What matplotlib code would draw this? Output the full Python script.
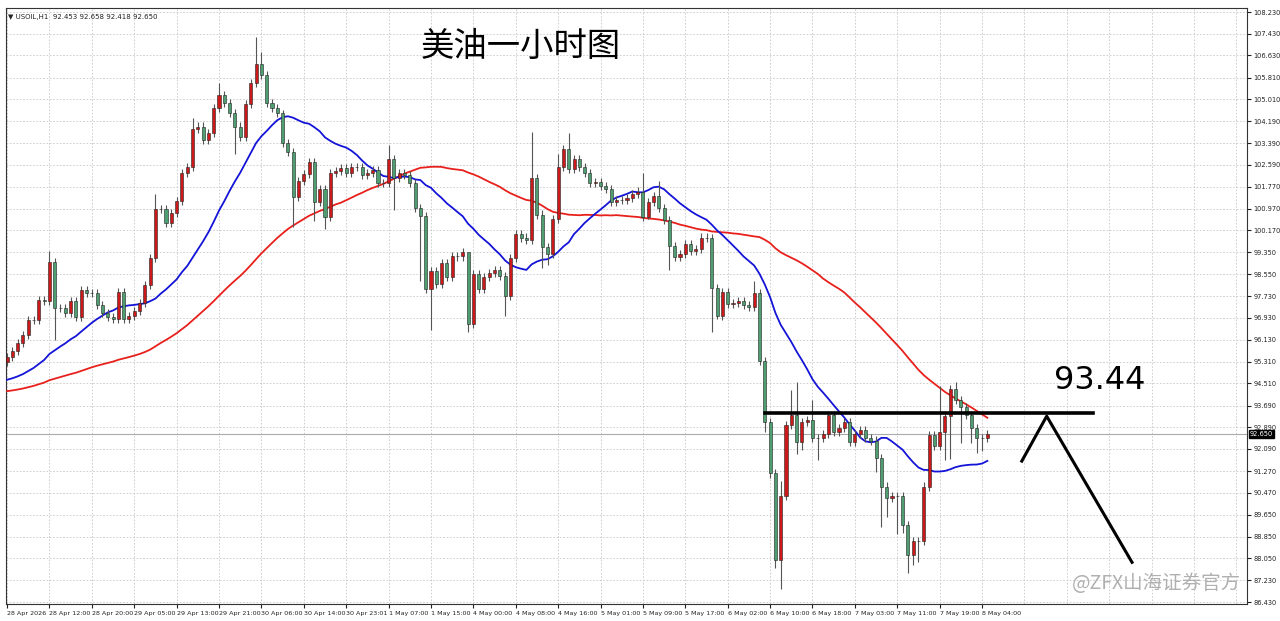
import matplotlib
matplotlib.use("Agg")
import matplotlib.pyplot as plt
import numpy as np
import pandas as pd

# ---- data ----
closes = [95.5, 95.7, 96.0, 96.3, 96.85, 96.85, 97.6, 97.55, 99.0, 97.3,
          97.3, 97.1, 97.55, 96.96, 97.96, 97.85, 97.85, 97.4, 97.1, 96.96,
          96.9, 97.88, 96.9, 97.0, 97.18, 97.48, 98.14, 99.14, 100.95, 100.95,
          100.43, 100.8, 101.25, 102.3, 102.5, 103.9, 104.0, 103.5, 103.76, 104.68,
          105.16, 104.87, 104.5, 104.0, 103.6, 104.83, 105.6, 106.3, 105.9, 104.87,
          104.68, 104.5, 103.4, 103.05, 101.4, 102.0, 102.25, 102.7, 101.2, 101.7,
          100.65, 102.3, 102.35, 102.46, 102.3, 102.5, 102.5, 102.2, 102.3, 102.4,
          101.9, 101.9, 102.8, 102.1, 102.3, 102.2, 101.9, 101.0, 100.7, 97.99,
          98.66, 98.2, 98.95, 98.44, 99.2, 99.2, 99.36, 96.7, 98.55, 98.0,
          98.44, 98.6, 98.7, 98.47, 97.73, 99.14, 100.03, 99.9, 99.8, 102.1,
          100.75, 99.55, 99.3, 100.6, 102.5, 103.17, 102.43, 102.8, 102.5, 102.28,
          101.9, 101.95, 101.8, 101.7, 101.2, 101.3, 101.3, 101.35, 101.5, 101.6,
          100.65, 101.2, 101.43, 101.0, 100.55, 99.58, 99.18, 99.3, 99.65, 99.4,
          99.47, 99.9, 99.87, 98.03, 97.0, 97.88, 97.45, 97.48, 97.55, 97.4,
          97.33, 97.85, 95.33, 93.08, 91.2, 87.98, 90.35, 92.97, 93.33, 92.34,
          93.08, 93.15, 92.5, 92.5, 92.65, 93.33, 92.7, 92.86, 93.08, 92.34,
          92.65, 92.8, 92.5, 92.4, 91.75, 90.7, 90.27, 90.35, 90.35, 89.27,
          88.17, 88.7, 88.7, 90.7, 92.6, 92.2, 92.7, 93.3, 94.3, 93.9,
          93.63, 93.33, 92.86, 92.48, 92.48, 92.65]
first_open = 95.3
high_marks = {8: 99.4, 28: 101.5, 35: 104.3, 40: 105.6, 47: 107.3, 48: 106.75,
              52: 104.6, 72: 103.3, 87: 98.9, 99: 103.8, 104: 103.0, 106: 103.76,
              120: 102.3, 123: 102.0, 141: 98.3, 146: 90.9, 148: 94.26, 149: 94.55,
              152: 93.9, 176: 94.4, 179: 94.56}
low_marks = {9: 96.1, 43: 103.0, 54: 100.3, 58: 100.5, 60: 100.2, 73: 100.9,
             78: 98.3, 80: 96.5, 87: 96.4, 94: 97.0, 101: 98.77, 102: 98.9,
             121: 100.6, 125: 98.7, 133: 96.4, 134: 96.9, 143: 92.7, 144: 91.0,
             145: 87.7, 146: 86.9, 147: 90.2, 149: 91.9, 150: 92.04, 153: 91.67,
             164: 91.23, 165: 89.2, 166: 89.57, 168: 88.96, 169: 89.0, 170: 87.5,
             171: 87.8, 172: 87.9, 177: 91.67, 178: 91.7, 180: 92.3, 182: 92.3,
             183: 91.93, 184: 92.0}
ma_fast_seed, ma_slow_seed = 94.6, 94.2
ma_fast_len, ma_slow_len = 20, 55
x_labels = ["28 Apr 2026", "28 Apr 12:00", "28 Apr 20:00", "29 Apr 05:00", "29 Apr 13:00",
            "29 Apr 21:00", "30 Apr 06:00", "30 Apr 14:00", "30 Apr 23:01", "1 May 07:00",
            "1 May 15:00", "4 May 00:00", "4 May 08:00", "4 May 16:00", "5 May 01:00",
            "5 May 09:00", "5 May 17:00", "6 May 02:00", "6 May 10:00", "6 May 18:00",
            "7 May 03:00", "7 May 11:00", "7 May 19:00", "8 May 04:00"]
y_ticks = [108.230, 107.430, 106.630, 105.810, 105.010, 104.190, 103.390, 102.590,
           101.770, 100.970, 100.170, 99.350, 98.550, 97.730, 96.930, 96.130, 95.310,
           94.510, 93.690, 92.890, 92.090, 91.270, 90.470, 89.650, 88.850, 88.050,
           87.230, 86.430]
level = 93.41
level_label = "93.44"
last_price = 92.650
arrow_x = [191.5, 196.2, 212.3]
arrow_y = [91.64, 93.3, 87.9]

# ---- derived ----
c = np.array(closes)
o = np.concatenate([[first_open], c[:-1]])
n = len(c)
hi = np.maximum(o, c) + 0.15
lo = np.minimum(o, c) - 0.15
for k, v in high_marks.items():
    hi[k] = v
for k, v in low_marks.items():
    lo[k] = v

def sma(seed, length):
    s = pd.Series(np.concatenate([[seed] * (length - 1), c]))
    return s.rolling(length).mean().values[length - 1:]

fast = sma(ma_fast_seed, ma_fast_len)
slow = sma(ma_slow_seed, ma_slow_len)

fig = plt.figure(figsize=(12.8, 6.21), dpi=100)
fig.patch.set_facecolor("white")
ax = fig.add_axes([6/1280, 1-604/621, 1241/1280, 596/621])
xs = np.arange(n)
ax.set_xlim(-0.2, 234)
ax.set_ylim(86.36, 108.38)

ax.set_yticks(y_ticks)
ax.set_yticklabels([f"{t:.3f}" for t in y_ticks])
ax.yaxis.tick_right()
ax.tick_params(axis="y", labelsize=4.8, length=3, pad=1.5, colors="#222222")
xt = np.arange(0, 24*8, 8)
ax.set_xticks(xt)
ax.set_xticklabels(x_labels, ha="left")
ax.tick_params(axis="x", labelsize=4.6, length=3, pad=2, colors="#222222")
grid_x = np.arange(0, 240, 8)
for g in grid_x:
    ax.axvline(g, color="#c8c8c8", lw=0.6, ls=(0, (2, 2)), zorder=0)
for g in y_ticks:
    ax.axhline(g, color="#c8c8c8", lw=0.6, ls=(0, (2, 2)), zorder=0)
for sp in ax.spines.values():
    sp.set_color("#333333"); sp.set_linewidth(0.8)

ax.axhline(last_price, color="#aaaaaa", lw=0.8, zorder=1)
ax.plot(xs, slow, color="#e8201c", lw=1.3, zorder=3)
ax.plot(xs, fast, color="#1414d8", lw=1.3, zorder=3)

up = c >= o
ax.vlines(xs, lo, hi, color="#555555", lw=0.8, zorder=4)
w = 0.58
ax.bar(xs[up], (c-o)[up], bottom=o[up], width=w, color="#cc1a1a", edgecolor="#222222", lw=0.4, zorder=5)
ax.bar(xs[~up], (c-o)[~up], bottom=o[~up], width=w, color="#4e9e72", edgecolor="#222222", lw=0.4, zorder=5)

ax.plot([143, 205], [level, level], color="black", lw=2.6, zorder=6)
ax.plot(arrow_x, arrow_y, color="black", lw=2.2, zorder=6)
ax.text(197.5, 94.6, level_label, fontsize=23, ha="left", va="center", family="DejaVu Sans")
ax.text(0.415, 0.935, "美油一小时图", transform=ax.transAxes, fontsize=24,
        ha="center", va="center", family=["Noto Sans CJK SC", "DejaVu Sans"])
ax.text(0.002, 0.99, "▼ USOIL,H1  92.453 92.658 92.418 92.650", transform=ax.transAxes,
        fontsize=5, ha="left", va="top", color="#222222")
ax.text(0.995, 0.035, "@ZFX山海证券官方", transform=ax.transAxes, fontsize=14,
        ha="right", va="center", color="#b0b0b0", family=["Noto Sans CJK SC", "DejaVu Sans"], zorder=7)
ax.annotate(f"{last_price:.3f}", xy=(1.0, last_price), xycoords=("axes fraction", "data"),
            xytext=(2, 0), textcoords="offset points", fontsize=4.8, color="white", va="center",
            bbox=dict(boxstyle="square,pad=0.15", fc="black", ec="black"), annotation_clip=False)

fig.savefig("out.png", dpi=100)
